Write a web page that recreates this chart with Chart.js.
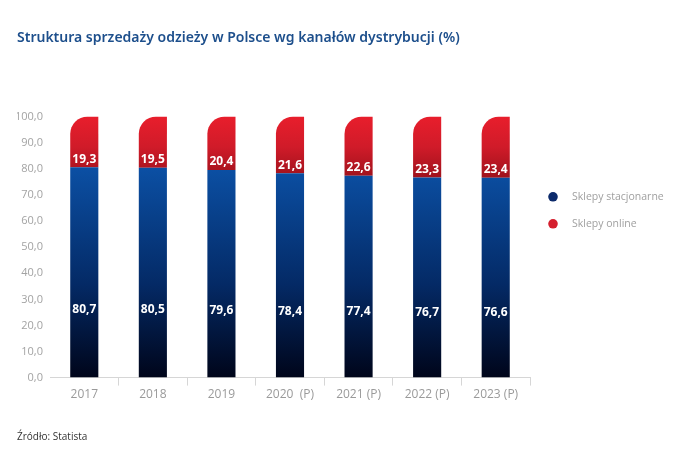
<!DOCTYPE html>
<html><head><meta charset="utf-8">
<script src="https://cdn.jsdelivr.net/npm/chart.js@4/dist/chart.umd.min.js"></script>
<style>html,body{margin:0;padding:0;background:#fff}#wrap{width:696px;height:460px;position:relative}</style>
</head><body><div id="wrap"><canvas id="c"></canvas></div>
<script>
const categories = ['2017', '2018', '2019', '2020  (P)', '2021 (P)', '2022 (P)', '2023 (P)'];
const stationary = [80.7, 80.5, 79.6, 78.4, 77.4, 76.7, 76.6];
const online = [19.3, 19.5, 20.4, 21.6, 22.6, 23.3, 23.4];
const seriesNames = ['Sklepy stacjonarne', 'Sklepy online'];
const legendColors = ['#0c2a6b', '#d51f2e'];
const titleText = 'Struktura sprzedaży odzieży w Polsce wg kanałów dystrybucji (%)';
const sourceText = 'Źródło: Statista';

const fmt = v => v.toFixed(1).replace('.', ',');

function blueGrad(ctx) {
  const chart = ctx.chart;
  if (!chart.chartArea) return '#06357a';
  const y = chart.scales.y;
  const g = chart.ctx.createLinearGradient(0, y.getPixelForValue(0), 0, y.getPixelForValue(80));
  g.addColorStop(0, '#00051a');
  g.addColorStop(0.45, '#042a66');
  g.addColorStop(1, '#0b4fa3');
  return g;
}
function redGradient(chart) {
  const y = chart.scales.y;
  const g = chart.ctx.createLinearGradient(0, y.getPixelForValue(100), 0, y.getPixelForValue(77));
  g.addColorStop(0, '#e81e2c');
  g.addColorStop(0.5, '#d01b29');
  g.addColorStop(1, '#a1121c');
  return g;
}

// draws the online bars with a single rounded top-left corner
const cornerPlugin = {
  id: 'cornerBars',
  beforeDatasetDraw(chart, args) {
    if (args.index !== 1) return;
    const c = chart.ctx;
    c.save();
    c.fillStyle = redGradient(chart);
    args.meta.data.forEach(el => {
      const p = el.getProps(['x', 'y', 'base', 'width'], true);
      const l = p.x - p.width / 2, r = p.x + p.width / 2;
      const rad = Math.min(17, p.width, p.base - p.y);
      c.beginPath();
      c.moveTo(l, p.base);
      c.lineTo(l, p.y + rad);
      c.arcTo(l, p.y, l + rad, p.y, rad);
      c.lineTo(r, p.y);
      c.lineTo(r, p.base);
      c.closePath();
      c.fill();
    });
    c.restore();
    return false;
  }
};

const labelPlugin = {
  id: 'valueLabels',
  afterDatasetsDraw(chart) {
    const c = chart.ctx;
    c.save();
    c.fillStyle = '#ffffff';
    c.font = 'bold 12px "Open Sans"';
    c.textAlign = 'center';
    c.textBaseline = 'middle';
    chart.getDatasetMeta(0).data.forEach((el, i) => {
      const yy = el.base - (el.base - el.y) * 0.325;
      c.fillText(fmt(stationary[i]), el.x, yy);
    });
    chart.getDatasetMeta(1).data.forEach((el, i) => {
      c.fillText(fmt(online[i]), el.x, el.base - 8);
    });
    c.restore();
  }
};

const legendPlugin = {
  id: 'sideLegend',
  afterDraw(chart) {
    const c = chart.ctx, a = chart.chartArea;
    c.save();
    c.font = '10.5px "Open Sans"';
    c.textBaseline = 'middle';
    c.textAlign = 'left';
    seriesNames.forEach((n, i) => {
      const yy = a.top + 80 + i * 27;
      c.fillStyle = legendColors[i];
      c.beginPath();
      c.arc(a.right + 23, yy, 4.8, 0, Math.PI * 2);
      c.fill();
      c.fillStyle = '#a0a0a0';
      c.fillText(n, a.right + 42, yy);
    });
    c.restore();
  }
};

const edgeHidden = (ctx) => (ctx.index === 0 || ctx.index === categories.length) ? 'rgba(0,0,0,0)' : '#d6d6d6';

new Chart(document.getElementById('c'), {
  type: 'bar',
  data: {
    labels: categories,
    datasets: [
      { label: seriesNames[0], data: stationary, backgroundColor: blueGrad, borderWidth: 0,
        categoryPercentage: 1, barPercentage: 0.41 },
      { label: seriesNames[1], data: online, backgroundColor: '#d51f2e', borderWidth: 0,
        categoryPercentage: 1, barPercentage: 0.41 }
    ]
  },
  options: {
    responsive: true,
    maintainAspectRatio: false,
    animation: false,
    devicePixelRatio: 1,
    layout: { padding: { left: 17, right: 166, top: 30, bottom: 17 } },
    scales: {
      x: {
        stacked: true,
        grid: { display: true, drawOnChartArea: false, drawTicks: true, tickLength: 8, offset: true,
          color: edgeHidden, tickColor: edgeHidden },
        border: { display: true, color: '#d6d6d6', width: 1 },
        ticks: { color: '#9a9a9a', font: { family: 'Open Sans', size: 12 }, padding: 2 }
      },
      y: {
        stacked: true,
        min: 0, max: 100,
        grid: { display: false, drawTicks: false, tickLength: 0 },
        border: { display: false },
        afterFit: scale => { scale.width = 33; },
        ticks: { stepSize: 10, color: '#a3a3a3', font: { family: 'Open Sans', size: 11 }, padding: 7,
          callback: v => fmt(v) }
      }
    },
    plugins: {
      tooltip: { enabled: false },
      legend: { display: false },
      title: { display: true, text: titleText, align: 'start', color: '#1d4f8c',
        font: { family: 'Noto Sans', size: 14, weight: '600' }, padding: { top: 0, bottom: 70 } },
      subtitle: { display: true, text: sourceText, position: 'bottom', align: 'start', color: '#333333',
        font: { family: 'Open Sans', size: 10 }, padding: { top: 27, bottom: 0 } }
    }
  },
  plugins: [cornerPlugin, labelPlugin, legendPlugin]
});
</script></body></html>
